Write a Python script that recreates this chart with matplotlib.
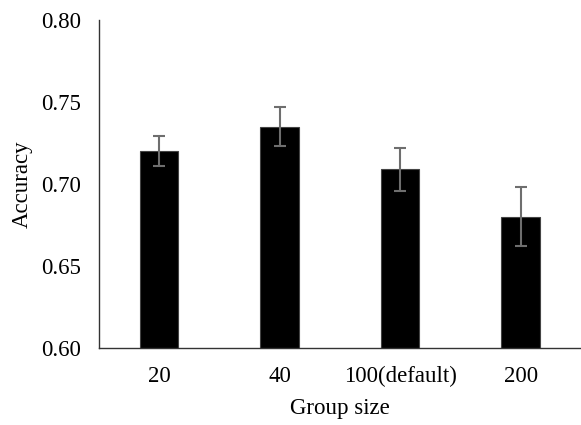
import matplotlib
matplotlib.use('Agg')
import matplotlib.pyplot as plt
import numpy as np

groups = ['20', '40', '100(default)', '200']
accuracy = [0.720, 0.735, 0.709, 0.680]
errors = [0.009, 0.012, 0.013, 0.018]

plt.rcParams['font.family'] = ['Liberation Serif', 'DejaVu Serif']

fig = plt.figure(figsize=(5.81, 4.25), dpi=100)
ax = fig.add_axes([0.170, 0.181, 0.830, 0.772])

x = np.arange(len(groups))
ax.bar(x, accuracy, 0.32, color='black', edgecolor='#444444', linewidth=0.8,
       yerr=errors, error_kw=dict(ecolor='#6e6e6e', elinewidth=1.5, capsize=4.5, capthick=1.5))

ax.set_xlim(-0.5, 3.5)
ax.set_ylim(0.60, 0.80)
ax.set_yticks([0.60, 0.65, 0.70, 0.75, 0.80])
ax.set_yticklabels(['0.60', '0.65', '0.70', '0.75', '0.80'])
ax.set_xticks(x)
ax.set_xticklabels(groups)
ax.tick_params(axis='both', length=0, labelsize=16.5)
ax.tick_params(axis='y', pad=13)
ax.tick_params(axis='x', pad=13)

for s in ['top', 'right']:
    ax.spines[s].set_visible(False)
for s in ['left', 'bottom']:
    ax.spines[s].set_color('#333333')
    ax.spines[s].set_linewidth(1.0)

ax.set_xlabel('Group size', fontsize=16.5, labelpad=8)
ax.set_ylabel('Accuracy', fontsize=16.5, labelpad=6)

fig.savefig('out.png', dpi=100)
